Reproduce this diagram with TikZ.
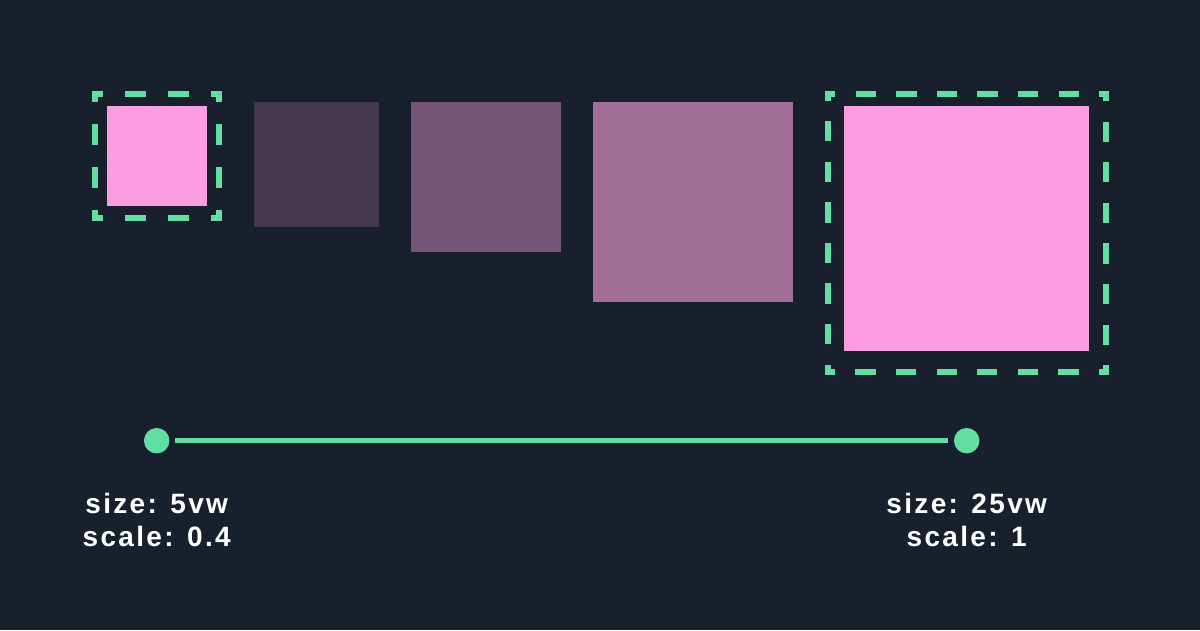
\documentclass[tikz,border=0pt]{standalone}
\usepackage{fontspec}
\usetikzlibrary{positioning}
\newfontfamily\labelfont[LetterSpace=8.3]{Liberation Sans}
\definecolor{bg}{HTML}{19202D}
\definecolor{mint}{HTML}{61DFA1}
\definecolor{pinkA}{HTML}{FC9CE0}
\definecolor{plumA}{HTML}{443850}
\definecolor{plumB}{HTML}{765477}
\definecolor{plumC}{HTML}{A16E9A}

\begin{document}
\begin{tikzpicture}[x=1pt,y=-1pt,
    sq/.style={inner sep=0pt, outer sep=0pt, minimum size=#1},
    frame/.style={draw=mint, line width=6pt, line cap=rect, inner sep=0pt, outer sep=0pt},
    frameS/.style={frame, minimum size=124pt,
        dash pattern=on 10pt off 27.6pt on 15.6pt off 27.6pt on 15.6pt off 27.6pt, dash phase=5pt},
    frameL/.style={frame, minimum size=278pt,
        dash pattern=on 8pt off 26.3pt on 14.3pt off 26.3pt on 14.3pt off 26.3pt on 14.3pt off 26.3pt
        on 14.3pt off 26.3pt on 14.3pt off 26.3pt on 14.3pt off 26.3pt, dash phase=4pt},
    dot/.style={circle, fill=mint, minimum size=25.5pt, inner sep=0pt, outer sep=0pt},
    lbl/.style={text=white, align=center, inner sep=0pt, anchor=base,
        font=\labelfont\bfseries\fontsize{28}{33.4}\selectfont}]
    \fill[bg] (0,0) rectangle (1200,630);

    \node[sq=100pt, fill=pinkA] (small) at (157,156) {};
    \node[sq=125pt, fill=plumA] (mid1) at (316.5,164.5) {};
    \node[sq=150pt, fill=plumB] (mid2) at (486,177) {};
    \node[sq=200pt, fill=plumC] (mid3) at (693,202) {};
    \node[sq=245pt, fill=pinkA] (large) at (966.5,228.5) {};

    \node[frameS] (smallF) at (small) {};
    \node[frameL] (largeF) at (967,233) {};

    \node[dot] (dotL) at (156.7,440.7) {};
    \node[dot] (dotR) at (966.7,440.7) {};
    \draw [mint, line width=4.6pt, shorten <=5.5pt, shorten >=5.5pt] (dotL) -- (dotR);

    % base anchor sits on the last line
    \node[lbl, below=106pt of dotL.center, anchor=base] (textL) {size: 5vw\\scale: 0.4};
    \node[lbl, below=106pt of dotR.center, anchor=base] (textR) {size: 25vw\\scale: 1};
\end{tikzpicture}
\end{document}
